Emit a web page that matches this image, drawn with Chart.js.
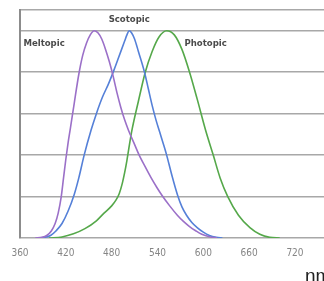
<!DOCTYPE html>
<html>
<head>
<meta charset="utf-8">
<script src="https://cdn.jsdelivr.net/npm/chart.js@4.4.1/dist/chart.umd.min.js"></script>
<style>
html,body{margin:0;padding:0;background:#fff;}
#wrap{width:324px;height:281px;position:relative;}
</style>
</head>
<body>
<div id="wrap"><canvas id="c" width="324" height="281"></canvas></div>
<script>
// Wavelengths (nm) and relative sensitivity values
const meltopicNm  = [380, 389, 395, 401, 406, 410, 414, 417, 420, 423, 426, 431, 437, 442, 447, 452, 457, 462, 467, 472, 477, 482, 487, 492, 497, 502, 509, 516, 523, 531, 539, 546, 556, 566, 574, 582, 590, 598, 608, 618];
const meltopicVal = [0, 0.003, 0.012, 0.034, 0.07, 0.12, 0.2, 0.29, 0.38, 0.46, 0.53, 0.65, 0.79, 0.88, 0.94, 0.98, 1.0, 0.99, 0.96, 0.91, 0.85, 0.78, 0.7, 0.63, 0.57, 0.52, 0.46, 0.4, 0.35, 0.295, 0.245, 0.205, 0.155, 0.11, 0.08, 0.055, 0.035, 0.018, 0.006, 0];
const scotopicNm  = [385, 392, 400, 407, 415, 423, 431, 437, 444, 453, 460, 468, 476, 483, 488, 493, 497, 500, 503, 506, 510, 515, 523, 528, 533, 538, 543, 548, 552, 559, 566, 572, 578, 585, 592, 600, 608, 617, 625];
const scotopicVal = [0, 0.003, 0.012, 0.034, 0.07, 0.13, 0.21, 0.29, 0.4, 0.52, 0.6, 0.68, 0.745, 0.81, 0.86, 0.91, 0.95, 0.98, 1.0, 0.99, 0.96, 0.9, 0.8, 0.72, 0.64, 0.57, 0.51, 0.45, 0.4, 0.3, 0.21, 0.15, 0.11, 0.075, 0.05, 0.028, 0.012, 0.003, 0];
const photopicNm  = [398, 415, 430, 445, 460, 470, 480, 486, 490, 494, 497, 500, 506, 515, 524, 533, 542, 552, 562, 572, 582, 592, 603, 613, 622, 632, 646, 661, 674, 687, 700];
const photopicVal = [0, 0.005, 0.02, 0.045, 0.083, 0.12, 0.155, 0.185, 0.215, 0.265, 0.315, 0.375, 0.51, 0.66, 0.8, 0.9, 0.97, 1.0, 0.98, 0.91, 0.8, 0.67, 0.52, 0.4, 0.29, 0.2, 0.11, 0.05, 0.018, 0.003, 0];
const seriesNames = ['Meltopic', 'Scotopic', 'Photopic'];
const xTickStep = 60;
const yTickStep = 0.2;

function pts(xs, ys){ return xs.map((x,i)=>({x:x, y:ys[i]})); }

const labelPlugin = {
  id: 'curveLabels',
  afterDatasetsDraw(chart){
    const {ctx, scales:{x, y}} = chart;
    const anchors = [[391.5, 0.94], [503, 1.053], [603, 0.94]];
    ctx.save();
    ctx.font = 'bold 9.5px "DejaVu Sans Condensed", "DejaVu Sans", sans-serif';
    ctx.fillStyle = '#4a4a4a';
    ctx.textAlign = 'center';
    ctx.textBaseline = 'middle';
    seriesNames.forEach((n,i)=>{
      ctx.fillText(n, x.getPixelForValue(anchors[i][0]), y.getPixelForValue(anchors[i][1]));
    });
    ctx.font = '19px "Liberation Sans", Arial, sans-serif';
    ctx.fillStyle = '#222';
    ctx.textAlign = 'left';
    ctx.textBaseline = 'alphabetic';
    ctx.fillText('nm', 305, 282);
    ctx.restore();
  }
};

new Chart(document.getElementById('c'), {
  type: 'line',
  data: {
    datasets: [
      {label: seriesNames[0], data: pts(meltopicNm, meltopicVal), borderColor: '#9b70c8', borderWidth: 1.6, pointRadius: 0, cubicInterpolationMode: 'monotone', fill: false},
      {label: seriesNames[1], data: pts(scotopicNm, scotopicVal), borderColor: '#5580d8', borderWidth: 1.6, pointRadius: 0, cubicInterpolationMode: 'monotone', fill: false},
      {label: seriesNames[2], data: pts(photopicNm, photopicVal), borderColor: '#55a84a', borderWidth: 1.6, pointRadius: 0, cubicInterpolationMode: 'monotone', fill: false}
    ]
  },
  options: {
    responsive: false,
    animation: false,
    devicePixelRatio: 1,
    layout: {padding: {left: 20, top: 10, right: 0, bottom: 13}},
    plugins: {legend: {display: false}, tooltip: {enabled: false}},
    scales: {
      x: {
        type: 'linear', min: 360, max: 758,
        grid: {display: false, drawTicks: false},
        border: {display: false},
        ticks: {stepSize: xTickStep, includeBounds: false, maxRotation: 0, autoSkip: false, color: '#858585', font: {size: 10, family: '"DejaVu Sans Condensed", "DejaVu Sans", sans-serif'}, padding: 9}
      },
      y: {
        type: 'linear', min: 0, max: 1.1,
        grid: {color: '#a8a8a8', lineWidth: 1.5, drawTicks: false},
        border: {display: true, color: '#8c8c8c', width: 2},
        ticks: {display: false, stepSize: yTickStep}
      }
    }
  },
  plugins: [labelPlugin]
});
</script>
</body>
</html>
